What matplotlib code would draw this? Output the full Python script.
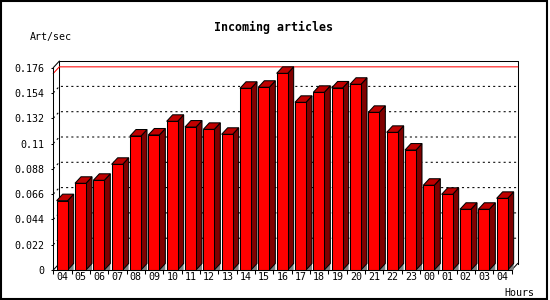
import matplotlib
matplotlib.use('Agg')
import matplotlib.pyplot as plt
from matplotlib.patches import Polygon, Rectangle

# hourly rates
hours = ['04', '05', '06', '07', '08', '09', '10', '11', '12', '13', '14', '15',
         '16', '17', '18', '19', '20', '21', '22', '23', '00', '01', '02', '03', '04']
art_per_sec = [0.0603, 0.0754, 0.0780, 0.0919, 0.1165, 0.1174, 0.1293, 0.1243,
               0.1223, 0.1180, 0.1580, 0.1589, 0.1710, 0.1458, 0.1545, 0.1583,
               0.1615, 0.1371, 0.1197, 0.1043, 0.0737, 0.0658, 0.0528, 0.0528,
               0.0623]
ytick_vals = [0, 0.022, 0.044, 0.066, 0.088, 0.11, 0.132, 0.154, 0.176]
ytick_labels = ['0', '0.022', '0.044', '0.066', '0.088', '0.11', '0.132', '0.154', '0.176']

W, H = 550, 300
ymax = 0.176
n = len(hours)

fig = plt.figure(figsize=(W / 100, H / 100), dpi=100)
ax = fig.add_axes([53.33 / W, 30 / H, 458.33 / W, 202.4 / H])
ax.set_xlim(0, n)
ax.set_ylim(0, ymax)

# 3d depth in data units (6 px right, 6.5 px up)
px_x = n / 458.33
px_y = ymax / 202.4
DX = 6 * px_x
DY = 6.5 * px_y
LW = 0.75
mono = 'DejaVu Sans Mono'

# back wall
ax.plot([DX, DX, n + DX, n + DX], [DY, ymax + DY, ymax + DY, DY],
        color='black', lw=LW, clip_on=False, zorder=1)
ax.plot([0, DX], [ymax, ymax + DY], color='black', lw=LW, clip_on=False, zorder=1)
ax.plot([0, DX], [0, DY], color='black', lw=LW, clip_on=False, zorder=1)
ax.plot([n, n + DX], [0, DY], color='black', lw=LW, clip_on=False, zorder=1)

# dotted grid on the back wall
for v in ytick_vals[1:-1]:
    ax.plot([0, DX, n + DX], [v, v + DY, v + DY], color='black', lw=LW,
            ls=(0, (2, 3)), clip_on=False, zorder=1)

# max line
vmax = max(art_per_sec)
ax.plot([0, DX, n + DX], [vmax, vmax + DY, vmax + DY], color='red', lw=LW,
        clip_on=False, zorder=1.5)

# bars
bw = 11 * px_x
off = 3.33 * px_x
for i, v in enumerate(art_per_sec):
    x0 = i + off
    x1 = x0 + bw
    ax.add_patch(Polygon([(x1, 0), (x1 + DX, DY), (x1 + DX, 0)], closed=True,
                         fc='#808080', ec='none', zorder=2, clip_on=False))
    ax.add_patch(Polygon([(x1, 0), (x1 + DX, DY), (x1 + DX, v + DY), (x1, v)],
                         closed=True, fc='#800000', ec='black', lw=LW, zorder=3,
                         clip_on=False))
    ax.add_patch(Polygon([(x0, v), (x0 + DX, v + DY), (x1 + DX, v + DY), (x1, v)],
                         closed=True, fc='#c00000', ec='black', lw=LW, zorder=3,
                         clip_on=False))
    ax.add_patch(Rectangle((x0, 0), bw, v, fc='#ff0000', ec='black', lw=LW,
                           zorder=3, clip_on=False))

# axes: front left and bottom only
for s in ['top', 'right']:
    ax.spines[s].set_visible(False)
for s in ['left', 'bottom']:
    ax.spines[s].set_linewidth(LW)
    ax.spines[s].set_zorder(4)
ax.patch.set_visible(False)

ax.set_yticks(ytick_vals)
ax.set_yticklabels(ytick_labels, fontfamily=mono, fontsize=7.2)
ax.tick_params(axis='y', length=1.5, width=LW, pad=5)

ax.set_xticks(range(n + 1))
ax.set_xticklabels([])
ax.set_xticks([i + 0.5 for i in range(n)], minor=True)
ax.set_xticklabels(hours, minor=True, fontfamily=mono, fontsize=7.2)
ax.tick_params(axis='x', which='major', length=3, width=LW)
ax.tick_params(axis='x', which='minor', length=0, pad=1.5)

fig.text(273 / W, 1 - 27 / H, 'Incoming articles', ha='center', va='center',
         fontfamily=mono, fontweight='bold', fontsize=8.4)
fig.text(30 / W, 1 - 37 / H, 'Art/sec', ha='left', va='center',
         fontfamily=mono, fontsize=7.2)
fig.text(504 / W, 1 - 292.5 / H, 'Hours', ha='left', va='center',
         fontfamily=mono, fontsize=7.2)

# outer frame
fig.patches.append(Rectangle((0.5 / W, 1.5 / H), 546.5 / W, 298 / H,
                             transform=fig.transFigure, fill=False,
                             ec='black', lw=1.5))

fig.savefig('out.png', dpi=100)
